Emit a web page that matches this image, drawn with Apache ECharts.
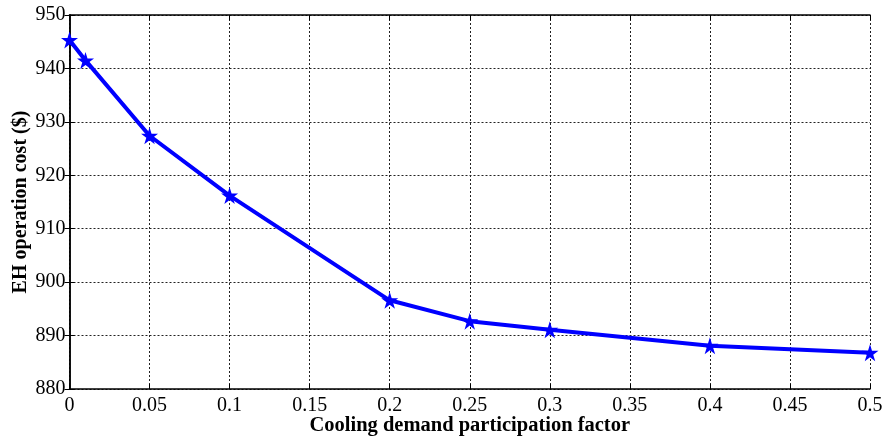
<!DOCTYPE html>
<html>
<head>
<meta charset="utf-8">
<script src="https://cdn.jsdelivr.net/npm/echarts@6/dist/echarts.min.js"></script>
<style>
  html, body { margin: 0; padding: 0; background: #fff; }
  #chart { width: 886px; height: 440px; }
</style>
</head>
<body>
<div id="chart"></div>
<script>
// Participation factor of cooling demand and resulting EH operation cost
const participationFactor = [0, 0.01, 0.05, 0.1, 0.2, 0.25, 0.3, 0.4, 0.5];
const operationCost = [945.3, 941.5, 927.4, 916.2, 896.6, 892.7, 891.1, 888.1, 886.8];

const xTicks = [0, 0.05, 0.1, 0.15, 0.2, 0.25, 0.3, 0.35, 0.4, 0.45, 0.5];
const yTicks = [880, 890, 900, 910, 920, 930, 940, 950];

const FONT = '"Liberation Serif", "Times New Roman", serif';
const starPath = 'path://M50,0L61.17,34.63L97.55,34.55L68.07,55.87L79.39,90.45L50,69L20.61,90.45L31.93,55.87L2.45,34.55L38.83,34.63Z';

const chart = echarts.init(document.getElementById('chart'), null, { renderer: 'canvas' });

const frameLine = { show: true, lineStyle: { color: '#000', width: 1.5 } };
const innerTick = { show: true, inside: true, length: 5, lineStyle: { color: '#000', width: 1 } };
const gridLine = { show: true, lineStyle: { color: '#222', width: 1, type: [2, 2] } };

const xMin = xTicks[0], xMax = xTicks[xTicks.length - 1], xStep = xTicks[1] - xTicks[0];
const yMin = yTicks[0], yMax = yTicks[yTicks.length - 1], yStep = yTicks[1] - yTicks[0];

chart.setOption({
  animation: false,
  backgroundColor: '#fff',
  grid: { left: 69.5, right: 16, top: 15, bottom: 51, containLabel: false, outerBoundsMode: 'none' },
  xAxis: [
    {
      type: 'value', min: xMin, max: xMax, interval: xStep,
      name: 'Cooling demand participation factor',
      nameLocation: 'middle', nameGap: 26, nameMoveOverlap: false,
      nameTextStyle: { fontFamily: FONT, fontWeight: 'bold', fontSize: 20.5, color: '#000' },
      axisLine: frameLine, axisTick: innerTick, splitLine: gridLine,
      axisLabel: {
        fontFamily: FONT, fontSize: 20, color: '#000', margin: 7,
        formatter: v => String(parseFloat(v.toFixed(2)))
      }
    },
    {
      type: 'value', min: xMin, max: xMax, interval: xStep, position: 'top',
      axisLine: frameLine, axisTick: innerTick, axisLabel: { show: false }, splitLine: { show: false }
    }
  ],
  yAxis: [
    {
      type: 'value', min: yMin, max: yMax, interval: yStep,
      name: 'EH operation cost ($)',
      nameLocation: 'middle', nameGap: 39, nameMoveOverlap: false,
      nameTextStyle: { fontFamily: FONT, fontWeight: 'bold', fontSize: 20, color: '#000' },
      axisLine: frameLine, axisTick: innerTick, splitLine: gridLine,
      axisLabel: { fontFamily: FONT, fontSize: 20, color: '#000', margin: 4 }
    },
    {
      type: 'value', min: yMin, max: yMax, interval: yStep, position: 'right',
      axisLine: frameLine, axisTick: innerTick, axisLabel: { show: false }, splitLine: { show: false }
    }
  ],
  series: [
    {
      type: 'line',
      data: participationFactor.map((x, i) => [x, operationCost[i]]),
      lineStyle: { color: '#0000ff', width: 4 },
      itemStyle: { color: '#0000ff' },
      symbol: starPath,
      symbolSize: 17,
      showSymbol: true,
      clip: false,
      z: 5
    }
  ]
});
</script>
</body>
</html>
